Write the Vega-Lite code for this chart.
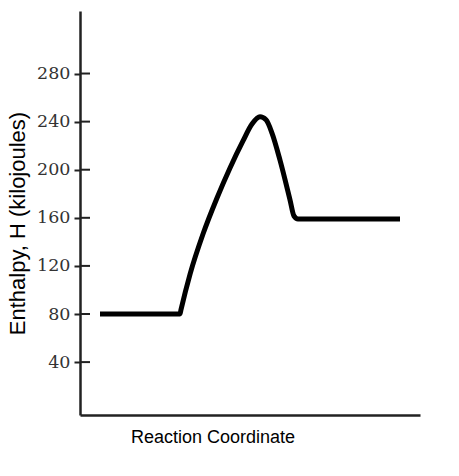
{
  "$schema": "https://vega.github.io/schema/vega-lite/v6.json",
  "width": 340,
  "height": 404,
  "autosize": {"type": "none"},
  "padding": {"left": 80, "top": 11, "right": 39, "bottom": 61},
  "background": "white",
  "config": {"view": {"stroke": null}},
  "layer": [
    {
      "data": {"values": [
        {"x": 20, "H": 80}, {"x": 100, "H": 80}, {"x": 101, "H": 83.6}, {"x": 110, "H": 113}, {"x": 123, "H": 146.5},
        {"x": 137, "H": 176.5}, {"x": 150, "H": 201.5}, {"x": 163, "H": 224}, {"x": 172, "H": 238},
        {"x": 180, "H": 244}, {"x": 186, "H": 241.5}, {"x": 192, "H": 230.5}, {"x": 200, "H": 208},
        {"x": 210, "H": 175}, {"x": 214, "H": 161.5}, {"x": 218, "H": 159}, {"x": 320, "H": 159}
      ]},
      "mark": {"type": "line", "color": "black", "strokeWidth": 5, "interpolate": "monotone", "strokeJoin": "round"},
      "encoding": {
        "x": {"field": "x", "type": "quantitative", "scale": {"domain": [0, 340], "nice": false, "zero": false},
          "axis": {"title": "Reaction Coordinate", "labels": false, "ticks": false, "grid": false,
            "domainColor": "#222", "domainWidth": 2.5,
            "titleFont": "Liberation Sans", "titleFontSize": 18, "titleFontWeight": "normal", "titleColor": "#000",
            "titleX": 132.5, "titleY": 27, "titleAlign": "center", "titleBaseline": "alphabetic"}},
        "y": {"field": "H", "type": "quantitative", "scale": {"domain": [-4, 332], "nice": false, "zero": false},
          "axis": {"title": "Enthalpy, H (kilojoules)", "values": [40, 80, 120, 160, 200, 240, 280], "grid": false,
            "domainColor": "#222", "domainWidth": 2.5, "tickColor": "#222", "tickWidth": 2, "tickSize": 6,
            "labelFont": "DejaVu Serif", "labelFontSize": 17.5, "labelColor": "#333", "labelPadding": 4,
            "titleFont": "Liberation Sans", "titleFontSize": 22, "titleFontWeight": "normal", "titleColor": "#000",
            "titleX": -56, "titleY": 212, "titleAlign": "center", "titleBaseline": "alphabetic", "titleAngle": -90}}
      }
    },
    {
      "data": {"values": [{"v": 40}, {"v": 80}, {"v": 120}, {"v": 160}, {"v": 200}, {"v": 240}, {"v": 280}]},
      "mark": {"type": "rule", "color": "#222", "strokeWidth": 2},
      "encoding": {
        "x": {"datum": 0},
        "x2": {"datum": 10},
        "y": {"field": "v", "type": "quantitative"}
      }
    }
  ]
}
